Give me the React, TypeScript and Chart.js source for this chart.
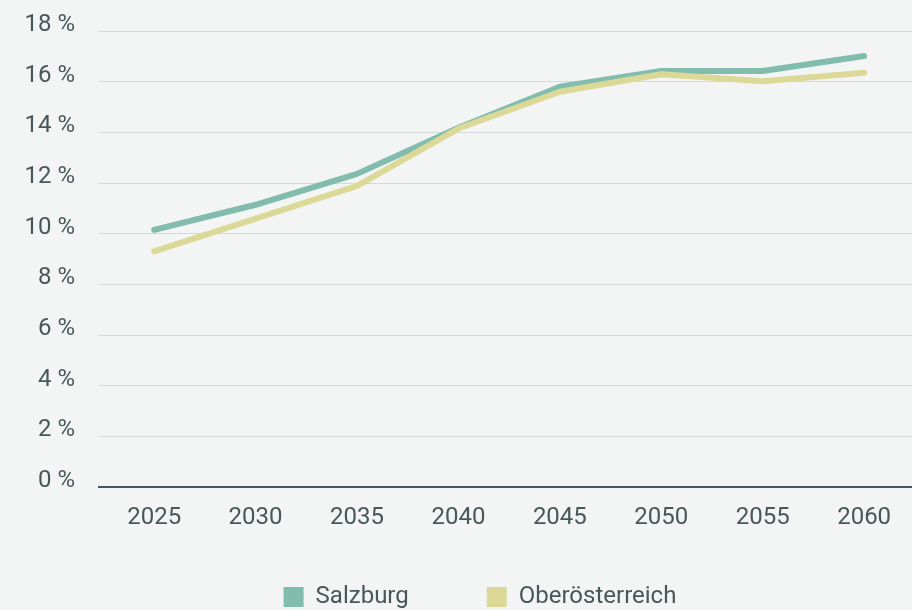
import React, { useEffect, useRef } from "react";
import { Chart, registerables } from "chart.js";

Chart.register(...registerables);

const years = [2025, 2030, 2035, 2040, 2045, 2050, 2055, 2060];
const salzburg = [10.15, 11.14, 12.36, 14.18, 15.8, 16.42, 16.42, 17.01];
const oberoesterreich = [9.3, 10.59, 11.89, 14.15, 15.6, 16.29, 16.02, 16.35];
const seriesNames = ["Salzburg", "Oberösterreich"];
const seriesColors = ["#82bcad", "#dcd998"];
const yTicks = [0, 2, 4, 6, 8, 10, 12, 14, 16, 18];

const BG = "#f3f5f4";
const TEXT = "#485759";
const AXIS = "#44575a";
const GRID = "#d3d8d9";
const FONT = "Roboto";

const bgPlugin = {
  id: "bgFill",
  beforeDraw(chart: any) {
    const { ctx, width, height } = chart;
    ctx.save();
    ctx.fillStyle = BG;
    ctx.fillRect(0, 0, width, height);
    ctx.restore();
  },
};

// the original legend sits off-centre and is partly cropped at the bottom edge
const legendShift = {
  id: "legendShift",
  afterLayout(chart: any) {
    const lg = chart.legend;
    if (!lg) return;
    lg.left += 24;
    lg.right += 24;
    lg.top -= 27;
    lg.bottom = lg.top + 160;
  },
};

export default function App() {
  const ref = useRef<HTMLCanvasElement | null>(null);

  useEffect(() => {
    if (!ref.current) return;
    const toPoints = (vals: number[]) => years.map((y, i) => ({ x: y, y: vals[i] }));
    const chart = new Chart(ref.current, {
      type: "line",
      data: {
        datasets: [
          {
            label: seriesNames[0],
            data: toPoints(salzburg),
            borderColor: seriesColors[0],
            backgroundColor: seriesColors[0],
            borderWidth: 6,
            borderCapStyle: "round",
            borderJoinStyle: "round",
            pointRadius: 0,
            tension: 0,
            order: 1,
          },
          {
            label: seriesNames[1],
            data: toPoints(oberoesterreich),
            borderColor: seriesColors[1],
            backgroundColor: seriesColors[1],
            borderWidth: 6,
            borderCapStyle: "round",
            borderJoinStyle: "round",
            pointRadius: 0,
            tension: 0,
            order: 0,
          },
        ],
      },
      options: {
        responsive: false,
        animation: false,
        events: [],
        layout: { padding: { left: 0, top: 31, right: 0, bottom: 0 } },
        scales: {
          x: {
            type: "linear",
            min: 2022.28,
            max: 2062.36,
            afterBuildTicks: (scale: any) => {
              scale.ticks = years.map((v) => ({ value: v }));
            },
            afterFit: (scale: any) => {
              scale.height = 47;
            },
            grid: { display: false, drawTicks: false },
            border: { display: true, color: AXIS, width: 2 },
            ticks: {
              padding: 17,
              color: TEXT,
              font: { family: FONT, size: 24 },
              maxRotation: 0,
              autoSkip: false,
              callback: (v: any) => String(v),
            },
          },
          y: {
            min: 0,
            max: 18,
            afterBuildTicks: (scale: any) => {
              scale.ticks = yTicks.map((v) => ({ value: v }));
            },
            afterFit: (scale: any) => {
              scale.width = 99;
              scale.paddingTop = 0;
              scale.paddingBottom = 0;
            },
            grid: {
              drawTicks: false,
              color: (c: any) => (c.tick && c.tick.value === 0 ? AXIS : GRID),
              lineWidth: (c: any) => (c.tick && c.tick.value === 0 ? 2 : 1),
            },
            border: { display: false },
            ticks: {
              padding: 24,
              labelOffset: -6,
              color: TEXT,
              font: { family: FONT, size: 24 },
              callback: (v: any) => v + " %",
            },
          },
        },
        plugins: {
          tooltip: { enabled: false },
          legend: {
            position: "bottom",
            maxHeight: 76,
            labels: {
              boxWidth: 20,
              boxHeight: 20,
              padding: 78,
              color: TEXT,
              font: { family: FONT, size: 24 },
              sort: (a: any, b: any) => a.datasetIndex - b.datasetIndex,
              generateLabels: (ch: any) =>
                (Chart.defaults.plugins.legend.labels.generateLabels as any)(ch).map((l: any) => ({
                  ...l,
                  lineWidth: 0,
                })),
            },
          },
        },
      },
      plugins: [bgPlugin, legendShift],
    } as any);
    return () => chart.destroy();
  }, []);

  return (
    <div
      style={{
        position: "fixed",
        left: 0,
        top: 0,
        width: 912,
        height: 610,
        background: BG,
        overflow: "hidden",
      }}
    >
      <canvas ref={ref} width={912} height={610} style={{ display: "block" }} />
    </div>
  );
}
